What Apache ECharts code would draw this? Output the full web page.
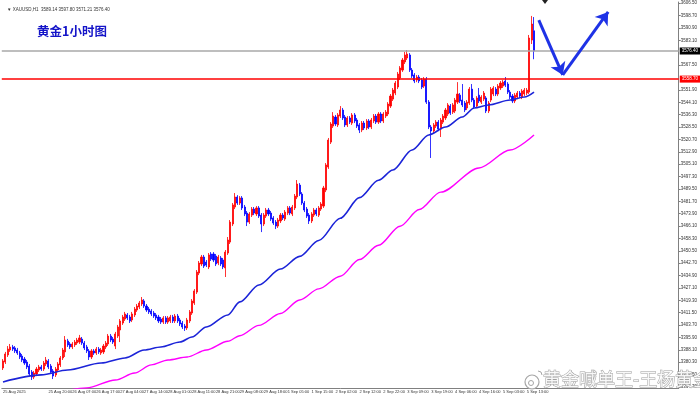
<!DOCTYPE html>
<html>
<head>
<meta charset="utf-8">
<script src="https://cdn.jsdelivr.net/npm/echarts@6.0.0/dist/echarts.min.js"></script>
<style>
html, body { margin: 0; padding: 0; background: #fff; }
#main { width: 700px; height: 397px; }
</style>
</head>
<body>
<div id="main"></div>
<script>
// XAUUSD H1, 每根K线 [开, 收, 低, 高]
var barCount = 283; // 右侧留白到价格轴
var candles = [
    [3376.7,3381.1,3375.4,3382.3],[3380.4,3385.5,3379.2,3386.8],[3384.9,3388.6,3383.6,3390.5],[3388.0,3389.9,3386.8,3391.8],
    [3389.9,3388.6,3387.4,3391.2],[3389.3,3387.4,3386.1,3390.5],[3388.0,3386.1,3384.9,3389.3],[3386.1,3383.6,3382.3,3387.4],
    [3384.2,3381.7,3380.4,3385.5],[3382.3,3379.8,3378.6,3383.6],[3380.4,3377.3,3376.0,3381.7],[3377.9,3372.9,3371.6,3379.2],
    [3374.1,3371.0,3369.1,3375.4],[3371.0,3373.5,3369.7,3374.8],[3372.9,3376.0,3371.6,3377.3],[3375.4,3377.3,3374.1,3378.6],
    [3377.3,3376.0,3374.8,3378.6],[3376.0,3379.8,3374.8,3381.1],[3379.2,3381.7,3377.9,3383.6],[3381.1,3377.3,3376.0,3382.3],
    [3377.9,3374.1,3372.9,3379.2],[3374.8,3371.6,3369.7,3376.0],[3372.3,3376.0,3371.0,3377.3],[3375.4,3379.2,3374.1,3380.4],
    [3378.6,3383.0,3377.3,3384.2],[3383.0,3388.0,3381.7,3389.3],[3386.8,3394.3,3383.6,3396.8],[3393.7,3391.2,3389.9,3395.0],
    [3391.8,3389.9,3388.6,3393.0],[3389.9,3391.8,3388.6,3393.0],[3391.2,3393.0,3389.9,3394.3],[3392.4,3394.3,3391.2,3395.6],
    [3393.0,3395.6,3391.8,3397.5],[3394.9,3392.4,3391.2,3396.2],[3392.4,3389.3,3388.0,3393.7],[3389.9,3387.4,3386.1,3391.2],
    [3387.4,3383.6,3381.7,3388.6],[3383.6,3387.4,3382.3,3388.6],[3387.4,3386.1,3384.9,3388.6],[3386.1,3388.6,3384.9,3389.9],
    [3388.6,3386.8,3385.5,3389.9],[3386.1,3388.0,3384.9,3389.3],[3386.8,3390.5,3385.5,3391.8],[3389.9,3392.4,3388.6,3393.7],
    [3391.8,3396.8,3390.5,3398.1],[3396.8,3394.3,3393.0,3398.1],[3394.9,3393.0,3391.8,3396.2],[3390.5,3398.1,3388.6,3399.4],
    [3396.8,3402.5,3395.6,3403.8],[3400.6,3406.3,3393.0,3407.5],[3405.0,3408.8,3403.8,3410.1],[3407.5,3410.7,3406.3,3412.0],
    [3410.1,3408.2,3406.9,3411.3],[3408.8,3406.3,3405.0,3410.1],[3406.9,3410.7,3405.6,3412.0],[3410.1,3413.8,3408.8,3415.1],
    [3413.2,3415.7,3412.0,3417.0],[3415.1,3417.6,3413.8,3418.9],[3417.0,3419.5,3415.7,3421.4],[3418.9,3415.7,3414.5,3420.1],
    [3415.7,3413.2,3412.0,3417.0],[3413.8,3412.0,3410.7,3415.1],[3412.6,3410.7,3409.4,3413.8],[3411.3,3409.4,3408.2,3412.6],
    [3410.1,3408.2,3406.9,3411.3],[3408.8,3406.3,3405.0,3410.1],[3407.5,3405.6,3404.4,3408.8],[3405.6,3408.2,3404.4,3409.4],
    [3408.2,3405.6,3404.4,3409.4],[3405.6,3408.2,3404.4,3409.4],[3406.3,3408.8,3405.0,3410.1],[3408.8,3406.3,3405.0,3410.1],
    [3406.3,3409.4,3405.0,3410.7],[3409.4,3406.3,3405.0,3410.7],[3406.9,3404.4,3403.1,3408.2],[3405.0,3402.5,3401.2,3406.3],
    [3403.1,3401.9,3400.0,3404.4],[3401.9,3406.9,3400.6,3408.2],[3406.3,3412.0,3405.0,3413.2],[3411.3,3418.9,3410.1,3420.1],
    [3417.6,3425.2,3416.4,3426.4],[3424.5,3437.1,3423.3,3438.4],[3436.5,3442.8,3435.2,3444.1],[3442.2,3446.6,3440.9,3447.9],
    [3446.6,3440.9,3439.7,3447.9],[3443.4,3441.5,3440.3,3444.7],[3440.3,3447.9,3439.0,3449.1],[3448.5,3445.3,3444.1,3449.7],
    [3448.5,3444.7,3443.4,3449.7],[3447.2,3442.2,3440.9,3448.5],[3442.8,3446.6,3441.5,3447.9],[3446.0,3442.2,3440.9,3447.2],
    [3444.7,3440.3,3439.0,3446.0],[3439.7,3449.7,3434.0,3451.0],[3449.1,3457.3,3447.9,3459.2],[3456.0,3468.6,3454.8,3469.9],
    [3467.4,3479.4,3466.1,3480.6],[3478.1,3484.4,3476.8,3486.9],[3484.4,3480.6,3479.4,3485.6],[3480.6,3483.8,3479.4,3485.0],
    [3483.8,3477.5,3476.2,3485.0],[3478.1,3473.7,3472.4,3479.4],[3474.3,3468.6,3466.1,3475.6],[3468.6,3473.7,3467.4,3474.9],
    [3473.0,3476.8,3471.8,3478.1],[3476.8,3474.3,3473.0,3478.1],[3473.7,3477.5,3472.4,3478.7],[3477.5,3472.4,3471.2,3478.7],
    [3473.0,3467.4,3462.3,3474.3],[3467.4,3473.0,3466.1,3474.3],[3472.4,3476.2,3471.2,3477.5],[3476.2,3473.7,3472.4,3477.5],
    [3474.3,3470.5,3469.3,3475.6],[3471.2,3468.0,3466.8,3472.4],[3468.6,3466.1,3464.2,3469.9],[3466.1,3469.9,3464.9,3471.2],
    [3469.3,3473.0,3468.0,3474.3],[3473.0,3471.2,3469.9,3474.3],[3470.5,3474.9,3469.3,3476.2],[3474.3,3477.5,3473.0,3478.7],
    [3477.5,3474.3,3473.0,3478.7],[3473.7,3478.1,3472.4,3479.4],[3477.5,3485.0,3476.2,3486.3],[3484.4,3492.6,3483.1,3495.1],
    [3491.9,3486.3,3485.0,3493.2],[3486.3,3480.6,3479.4,3487.5],[3480.6,3476.2,3474.9,3481.9],[3476.8,3472.4,3471.2,3478.1],
    [3473.0,3469.3,3467.4,3474.3],[3469.3,3473.7,3468.0,3474.9],[3473.0,3476.2,3471.8,3477.5],[3476.2,3473.7,3472.4,3477.5],
    [3473.0,3477.5,3471.8,3478.7],[3476.8,3480.0,3475.6,3481.2],[3478.7,3490.1,3477.5,3491.4],[3488.8,3504.6,3487.5,3505.8],
    [3503.3,3520.3,3502.1,3521.6],[3519.0,3530.4,3517.8,3531.6],[3529.1,3535.4,3527.9,3537.9],[3534.8,3530.4,3529.1,3536.1],
    [3529.8,3536.1,3528.5,3537.3],[3535.4,3539.2,3534.2,3541.7],[3539.2,3534.2,3532.9,3540.5],[3534.8,3529.8,3528.5,3536.1],
    [3529.8,3534.2,3528.5,3535.4],[3534.2,3531.6,3530.4,3535.4],[3531.0,3536.1,3529.8,3537.3],[3536.1,3532.3,3531.0,3537.3],
    [3532.9,3529.1,3527.9,3534.2],[3529.8,3526.6,3524.7,3531.0],[3526.6,3531.0,3525.3,3532.3],[3531.0,3527.9,3526.6,3532.3],
    [3527.9,3532.3,3526.6,3533.5],[3532.3,3528.5,3527.2,3533.5],[3528.5,3532.9,3527.2,3534.2],[3532.3,3535.4,3531.0,3536.7],
    [3535.4,3531.6,3530.4,3536.7],[3531.6,3536.7,3530.4,3537.9],[3536.7,3532.3,3531.0,3537.9],[3532.3,3536.7,3531.0,3537.9],
    [3535.4,3537.9,3534.2,3539.2],[3536.7,3543.0,3535.4,3544.2],[3541.7,3548.0,3540.5,3549.3],[3546.1,3551.8,3544.9,3553.1],
    [3549.9,3556.2,3548.6,3557.5],[3553.7,3561.9,3552.4,3563.2],[3559.4,3565.7,3558.1,3566.9],[3564.4,3570.7,3563.2,3572.0],
    [3569.5,3573.9,3568.2,3575.8],[3572.0,3574.5,3570.7,3577.0],[3573.9,3564.4,3563.2,3575.1],[3564.4,3560.6,3559.4,3565.7],
    [3561.3,3557.5,3556.2,3562.5],[3558.1,3560.0,3556.8,3561.3],[3560.0,3557.5,3556.2,3561.3],[3558.1,3553.7,3552.4,3559.4],
    [3554.3,3558.7,3553.1,3560.0],[3558.7,3544.2,3543.0,3560.0],[3544.2,3528.5,3527.2,3545.5],[3528.5,3526.0,3509.0,3529.8],
    [3526.0,3529.8,3524.7,3531.0],[3529.1,3531.6,3527.9,3532.9],[3531.6,3527.2,3525.9,3532.9],[3527.2,3532.9,3522.2,3534.2],
    [3531.6,3535.4,3530.4,3536.7],[3534.2,3539.2,3532.9,3540.5],[3536.7,3542.4,3535.4,3543.6],[3541.7,3537.3,3536.1,3543.0],
    [3537.9,3542.4,3536.7,3543.6],[3538.6,3545.5,3537.3,3546.8],[3544.2,3549.3,3543.0,3556.8],[3548.6,3544.9,3543.6,3549.9],
    [3545.5,3542.4,3541.1,3555.6],[3543.6,3539.2,3537.9,3544.9],[3540.5,3544.2,3539.2,3545.5],[3543.6,3552.4,3542.4,3553.7],
    [3552.4,3545.5,3544.2,3555.6],[3545.5,3541.1,3539.8,3546.8],[3541.7,3546.8,3540.5,3548.0],[3548.6,3544.9,3543.6,3553.1],
    [3544.2,3547.4,3543.0,3548.6],[3546.1,3549.9,3544.9,3551.2],[3546.8,3538.6,3537.3,3548.0],[3538.6,3543.6,3537.3,3544.9],
    [3545.5,3552.4,3544.2,3553.7],[3549.3,3553.1,3548.0,3554.3],[3552.4,3549.3,3548.0,3553.7],[3549.3,3554.3,3548.0,3555.6],
    [3553.1,3556.2,3551.8,3557.5],[3554.3,3556.8,3553.1,3558.1],[3557.5,3554.9,3553.7,3560.0],[3555.6,3550.5,3549.3,3556.8],
    [3550.5,3547.4,3546.1,3551.8],[3548.0,3544.9,3543.6,3549.3],[3544.9,3548.6,3543.6,3549.9],[3547.4,3549.9,3546.1,3551.2],
    [3549.9,3548.0,3546.8,3551.2],[3547.4,3551.2,3546.1,3552.4],[3549.3,3551.8,3548.0,3553.1],[3549.9,3551.8,3548.6,3553.1],
    [3550.5,3584.6,3549.3,3586.5],[3583.3,3593.4,3580.8,3598.5],[3589.14,3576.40,3571.21,3597.80]
];

// 均线读数 [K线序号, 价格]
var maBlue = [
    [0,3367.9],[16,3372.3],[27,3375.4],[41,3379.8],[51,3383.0],[59,3388.0],[66,3389.9],[74,3393.0],
    [79,3396.2],[85,3402.5],[94,3410.1],[99,3418.3],[107,3429.0],[116,3439.0],[124,3447.0],[132,3457.0],
    [141,3471.0],[149,3484.0],[157,3495.0],[163,3501.4],[171,3514.0],[178,3523.5],[185,3528.5],[192,3534.8],
    [197,3540.5],[203,3542.4],[212,3545.5],[218,3547.4],[222,3550.5]
];
var maPink = [
    [0,3350.0],[35,3364.1],[47,3369.1],[55,3373.5],[62,3378.6],[69,3381.7],[77,3383.6],[85,3388.0],
    [94,3393.5],[99,3397.0],[107,3403.5],[116,3411.0],[124,3419.5],[132,3426.5],[141,3434.5],[149,3445.0],
    [157,3454.0],[166,3466.0],[174,3476.5],[183,3487.5],[199,3502.7],[212,3514.0],[222,3523.5]
];

// 价格线
var bidPrice = 3576.40;
var redLevel = 3558.70;
// 蓝色箭头的折点 [K线序号, 价格]
var arrowPts = [[224, 3595.9], [234, 3561.3], [253, 3601.0]];

// 坐标轴刻度
var yMin = 3364.06, yMax = 3607.28;
var yTicks = [3606.50, 3598.70, 3590.90, 3583.10, 3567.50, 3551.90, 3544.10, 3536.30, 3528.50,
    3520.70, 3512.90, 3505.10, 3497.30, 3489.50, 3481.70, 3473.90, 3466.10, 3458.30, 3450.50, 3442.70,
    3434.90, 3427.10, 3419.30, 3411.50, 3403.70, 3395.90, 3388.10, 3380.30, 3372.50, 3364.70];
var tickIndex = [0, 19, 29, 39, 49, 59, 69, 79, 89, 99, 109, 119, 129, 139, 149, 159, 169, 179, 189, 199, 209, 219];
var tickLabels = ['25 Aug 2025', '25 Aug 20:00', '26 Aug 07:00', '26 Aug 17:00', '27 Aug 04:00', '27 Aug 14:00',
    '28 Aug 01:00', '28 Aug 11:00', '28 Aug 21:00', '29 Aug 08:00', '29 Aug 18:00', '1 Sep 05:00', '1 Sep 15:00',
    '2 Sep 02:00', '2 Sep 12:00', '2 Sep 22:00', '3 Sep 09:00', '3 Sep 19:00', '4 Sep 06:00', '4 Sep 16:00',
    '5 Sep 03:00', '5 Sep 13:00'];

var categories = [];
for (var i = 0; i < barCount; i++) {
    categories.push(String(i));
}

var myChart = echarts.init(document.getElementById('main'));

var smallFont = 'Liberation Sans';

var option = {
    animation: false,
    backgroundColor: '#ffffff',
    title: [{
        text: '黄金1小时图',
        left: 32,
        top: 20,
        textStyle: { color: '#1414c8', fontSize: 12.5, fontWeight: 'bold', fontFamily: 'Noto Sans CJK SC' }
    }, {
        text: '\u25BC XAUUSD,H1  3589.14 3597.80 3571.21 3576.40',
        left: 2,
        top: 2,
        textStyle: { color: '#333', fontSize: 4.5, fontWeight: 'normal', fontFamily: smallFont }
    }],
    grid: { left: 0, right: 18, top: 2, bottom: 9 },
    xAxis: {
        type: 'category',
        data: categories,
        boundaryGap: true,
        axisLine: { lineStyle: { color: '#808080', width: 1 } },
        axisTick: {
            alignWithLabel: true,
            length: 2,
            interval: function(index) { return tickIndex.indexOf(index) >= 0; },
            lineStyle: { color: '#808080' }
        },
        axisLabel: {
            interval: function(index) { return tickIndex.indexOf(index) >= 0; },
            formatter: function(value, index) {
                var k = tickIndex.indexOf(Number(value));
                return k >= 0 ? tickLabels[k] : '';
            },
            align: 'left',
            margin: 2,
            fontSize: 4,
            color: '#333',
            fontFamily: smallFont
        },
        splitLine: { show: false }
    },
    yAxis: {
        type: 'value',
        position: 'right',
        min: yMin,
        max: yMax,
        axisLine: { show: true, lineStyle: { color: '#808080', width: 1 } },
        axisTick: { show: true, length: 2, customValues: yTicks, lineStyle: { color: '#808080' } },
        axisLabel: {
            customValues: yTicks,
            formatter: function(v) { return v.toFixed(2); },
            margin: 2,
            fontSize: 4.5,
            color: '#333',
            fontFamily: smallFont
        },
        splitLine: { show: false }
    },
    series: [{
        name: 'XAUUSD',
        type: 'candlestick',
        data: candles,
        barWidth: 1.6,
        itemStyle: {
            color: '#ff0000',
            color0: '#0000ff',
            borderColor: '#ff0000',
            borderColor0: '#0000ff',
            borderWidth: 0.8
        },
        markLine: {
            silent: true,
            symbol: 'none',
            animation: false,
            data: [{
                yAxis: bidPrice,
                lineStyle: { color: '#a8a8a8', width: 1.5, type: 'solid' },
                label: {
                    show: true, position: 'end', distance: 1,
                    formatter: function(p) { return p.value.toFixed(2); },
                    backgroundColor: '#000', color: '#fff', fontSize: 4.5, padding: [1, 2], fontFamily: smallFont
                }
            }, {
                yAxis: redLevel,
                lineStyle: { color: '#ff0000', width: 1.5, type: 'solid' },
                label: {
                    show: true, position: 'end', distance: 1,
                    formatter: function(p) { return p.value.toFixed(2); },
                    backgroundColor: '#ff0000', color: '#fff', fontSize: 4.5, padding: [1, 2], fontFamily: smallFont
                }
            }]
        }
    }, {
        name: 'MA60',
        type: 'line',
        data: maBlue,
        showSymbol: false,
        smooth: 0.3,
        smoothMonotone: 'x',
        lineStyle: { color: '#1c24d8', width: 1.6 }
    }, {
        name: 'MA120',
        type: 'line',
        data: maPink,
        showSymbol: false,
        smooth: 0.3,
        smoothMonotone: 'x',
        lineStyle: { color: '#ff00ff', width: 1.4 },
        markLine: {
            silent: true,
            animation: false,
            symbol: ['none', 'arrow'],
            symbolSize: 12,
            label: { show: false },
            lineStyle: { color: '#1e32e6', width: 3, type: 'solid' },
            data: [
                [{ coord: arrowPts[0] }, { coord: arrowPts[1] }],
                [{ coord: arrowPts[1] }, { coord: arrowPts[2] }]
            ]
        }
    }],
    graphic: [{
        // 图表右移标记
        type: 'polygon',
        shape: { points: [[542, 0], [548, 0], [545, 4]] },
        style: { fill: '#222' },
        z: 100
    }, {
        // 右下角水印
        type: 'circle',
        shape: { cx: 532, cy: 382, r: 7 },
        style: { fill: 'rgba(255,255,255,0.85)', stroke: '#a6a6a6', lineWidth: 1.2 },
        z: 100
    }, {
        type: 'circle',
        shape: { cx: 531, cy: 383, r: 2.5 },
        style: { fill: 'none', stroke: '#a6a6a6', lineWidth: 1 },
        z: 100
    }, {
        type: 'arc',
        shape: { cx: 538, cy: 375, r: 4, startAngle: -Math.PI / 2, endAngle: 0 },
        style: { fill: 'none', stroke: '#a6a6a6', lineWidth: 1 },
        z: 100
    }, {
        type: 'text',
        x: 543,
        y: 370,
        style: {
            text: '黄金喊单王-王杨黄金',
            font: '18px "Noto Sans CJK SC"',
            fill: 'rgba(255,255,255,0.9)',
            stroke: '#a0a0a0',
            lineWidth: 1
        },
        z: 100
    }]
};

myChart.setOption(option);
</script>
</body>
</html>
